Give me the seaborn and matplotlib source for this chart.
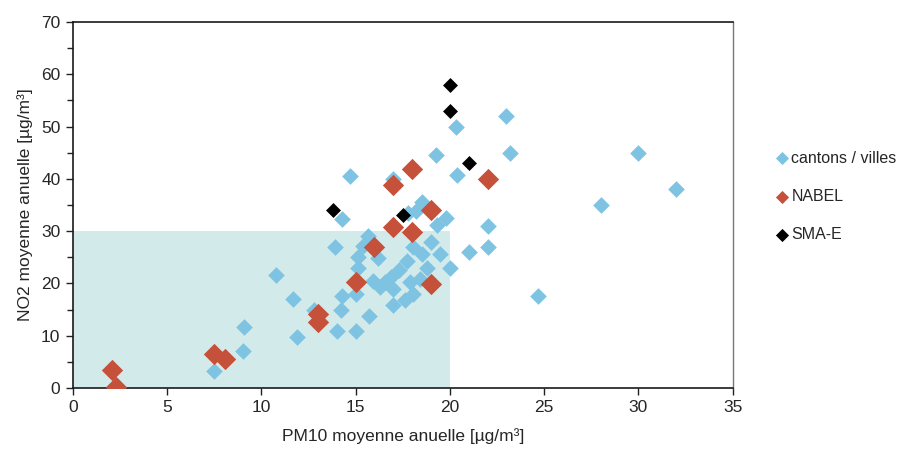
import matplotlib
matplotlib.use("Agg")
import matplotlib.pyplot as plt
import pandas as pd
import seaborn as sns
from matplotlib.patches import Rectangle
from matplotlib.ticker import MultipleLocator

# données (PM10, NO2)
cantons_pm10 = [20.3, 23.0, 19.25, 23.2, 30.0, 20.4, 14.7, 17.0, 32.0, 28.0,
                18.5, 18.2, 17.8, 19.8, 14.3, 19.3, 22.0, 22.0, 21.0, 19.0,
                18.05, 19.5, 18.5, 13.9, 15.66, 15.4, 15.1, 16.2, 17.7, 18.8,
                20.0, 15.1, 17.3, 16.9, 16.55, 15.9, 16.3, 17.0, 17.9, 18.4,
                18.05, 17.6, 17.0, 15.0, 14.3, 14.2, 15.7, 14.0, 15.0, 12.8,
                10.8, 11.7, 11.9, 9.1, 9.05, 7.5, 24.7]
cantons_no2 = [50.0, 52.0, 44.5, 45.0, 45.0, 40.7, 40.5, 40.0, 38.0, 35.0,
               35.6, 33.8, 33.4, 32.5, 32.4, 31.2, 31.0, 27.0, 26.0, 28.0,
               27.0, 25.7, 25.6, 27.0, 29.0, 27.2, 25.1, 24.8, 24.2, 22.9,
               22.9, 22.9, 22.6, 21.3, 20.3, 20.5, 19.4, 18.9, 20.3, 20.9,
               18.0, 16.8, 15.9, 18.0, 17.5, 15.0, 13.8, 10.9, 10.9, 15.0,
               21.7, 17.0, 9.8, 11.6, 7.1, 3.3, 17.5]

nabel_pm10 = [2.05, 2.3, 7.5, 8.05, 13.0, 13.0, 15.0, 16.0, 17.0, 18.0,
              19.0, 19.0, 17.0, 18.0, 22.0]
nabel_no2 = [3.5, 0.1, 6.5, 5.5, 14.2, 12.7, 20.3, 26.9, 30.8, 29.9,
             19.9, 34.0, 38.8, 41.9, 40.0]

smae_pm10 = [13.8, 17.5, 20.0, 20.0, 21.0]
smae_no2 = [34.0, 33.1, 58.0, 53.0, 43.0]

series = ["cantons / villes", "NABEL", "SMA-E"]
colors = ["#7fc3e3", "#c5513a", "#000000"]
sizes = [72, 118, 58]

df = pd.concat([
    pd.DataFrame({"pm10": cantons_pm10, "no2": cantons_no2, "reseau": series[0]}),
    pd.DataFrame({"pm10": nabel_pm10, "no2": nabel_no2, "reseau": series[1]}),
    pd.DataFrame({"pm10": smae_pm10, "no2": smae_no2, "reseau": series[2]}),
])

sns.set_style("white")
plt.rcParams["font.family"] = ["Liberation Sans", "DejaVu Sans"]

fig = plt.figure(figsize=(9, 4.55), dpi=100)
ax = fig.add_axes([0.081, 0.1473, 0.733, 0.8043])

# zone des valeurs limites
ax.add_patch(Rectangle((0, 0), 20, 30, facecolor="#d3eaea", edgecolor="none", zorder=0))

for name, col, s in zip(series, colors, sizes):
    sub = df[df["reseau"] == name]
    sns.scatterplot(data=sub, x="pm10", y="no2", ax=ax, color=col, marker="D",
                    s=s, linewidth=0, label=name, zorder=3)

ax.set_xlim(0, 35)
ax.set_ylim(0, 70)
ax.xaxis.set_major_locator(MultipleLocator(5))
ax.yaxis.set_major_locator(MultipleLocator(10))
ax.yaxis.set_minor_locator(MultipleLocator(5))
ax.tick_params(axis="both", which="major", direction="out", length=5, width=1,
               color="#222222", labelsize=12.5, pad=4, bottom=True, left=True)
ax.tick_params(axis="y", which="minor", direction="out", length=4, width=1,
               color="#222222", left=True)

ax.set_xlabel("PM10 moyenne anuelle [µg/m³]", fontsize=12.5, labelpad=9)
ax.set_ylabel("NO2 moyenne anuelle [µg/m³]", fontsize=12.5, labelpad=6)

for side in ["left", "top", "bottom"]:
    ax.spines[side].set_color("#1a1a1a")
    ax.spines[side].set_linewidth(1.2)
ax.spines["right"].set_color("#777777")
ax.spines["right"].set_linewidth(1.0)

ax.legend_.remove()
handles, labels = ax.get_legend_handles_labels()
leg = fig.legend(handles, labels, loc="upper left", bbox_to_anchor=(0.857, 0.683),
                 frameon=False, fontsize=11.5, handlelength=0.6, handletextpad=0.25,
                 labelspacing=1.45, borderaxespad=0)
for h in leg.legend_handles:
    h.set_sizes([45])

fig.savefig("out.png", dpi=100)
